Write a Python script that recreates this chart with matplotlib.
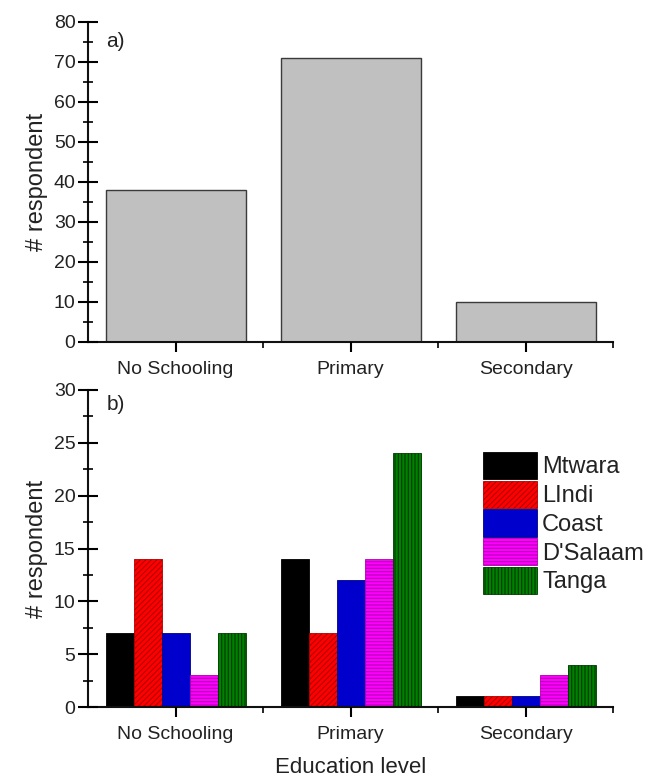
import matplotlib
matplotlib.use("Agg")
import matplotlib.pyplot as plt
import numpy as np
from matplotlib.ticker import MultipleLocator, FixedLocator

plt.rcParams['font.family'] = ['Liberation Sans', 'DejaVu Sans']
plt.rcParams['hatch.linewidth'] = 0.8

categories = ["No Schooling", "Primary", "Secondary"]
totals = [38, 71, 10]

regions = ["Mtwara", "LIndi", "Coast", "D'Salaam", "Tanga"]
mtwara = [7, 14, 1]
lindi = [14, 7, 1]
coast = [7, 12, 1]
dsalaam = [3, 14, 3]
tanga = [7, 24, 4]
series = [mtwara, lindi, coast, dsalaam, tanga]

face_colors = ["#000000", "#ff0000", "#0000cc", "#ff00ff", "#008000"]
hatch_colors = ["#000000", "#b00000", "#000080", "#b000b0", "#003a00"]
hatches = [None, "//////", None, "-----", "|||||"]

W, H = 651, 780
fig = plt.figure(figsize=(W / 100, H / 100), dpi=100)

def px_axes(left, right, top, bottom):
    return fig.add_axes([left / W, (H - bottom) / H, (right - left) / W, (bottom - top) / H])

ax1 = px_axes(88, 613, 22, 342)
ax2 = px_axes(88, 613, 390, 707)

x = np.arange(len(categories))
tick_col = "#222222"

def style(ax, ymax, major, minor):
    for s in ['top', 'right']:
        ax.spines[s].set_visible(False)
    for s in ['left', 'bottom']:
        ax.spines[s].set_linewidth(1.5)
        ax.spines[s].set_color("#111111")
    ax.set_xlim(-0.5, 2.5)
    ax.set_ylim(0, ymax)
    ax.yaxis.set_major_locator(MultipleLocator(major))
    ax.yaxis.set_minor_locator(MultipleLocator(minor))
    ax.set_xticks(x)
    ax.set_xticklabels(categories)
    ax.xaxis.set_minor_locator(FixedLocator([0.5, 1.5, 2.5]))
    ax.tick_params(axis='y', which='major', direction='inout', length=14, width=1.5,
                   labelsize=14, labelcolor=tick_col, pad=2)
    ax.tick_params(axis='y', which='minor', direction='inout', length=7, width=1.2)
    ax.tick_params(axis='x', which='major', direction='out', length=7, width=1.5,
                   labelsize=14, labelcolor=tick_col, pad=7)
    ax.tick_params(axis='x', which='minor', direction='out', length=4, width=1.2)
    ax.set_ylabel("# respondent", fontsize=17, color=tick_col, labelpad=4)
    ax.set_axisbelow(False)

ax1.bar(x, totals, width=0.8, color="#c0c0c0", edgecolor="#3a3a3a", linewidth=1.0, zorder=2)
style(ax1, 80, 10, 5)
ax1.text(0.035, 0.97, "a)", transform=ax1.transAxes, fontsize=15, va='top', ha='left', color=tick_col)

n = len(series)
bw = 0.16
for i, (vals, name) in enumerate(zip(series, regions)):
    offs = (i - (n - 1) / 2) * bw
    ax2.bar(x + offs, vals, width=bw, color=face_colors[i], edgecolor=hatch_colors[i],
            hatch=hatches[i], linewidth=0.6, label=name, zorder=2)
style(ax2, 30, 5, 2.5)
ax2.text(0.035, 0.985, "b)", transform=ax2.transAxes, fontsize=15, va='top', ha='left', color=tick_col)
ax2.set_xlabel("Education level", fontsize=16, color=tick_col, labelpad=10)

leg = ax2.legend(loc='upper left', bbox_to_anchor=((483 - 88) / 525, (707 - 452) / 317),
                 frameon=False, fontsize=17, borderpad=0, borderaxespad=0,
                 handlelength=2.3, handleheight=1.4, labelspacing=0.06, handletextpad=0.2)
for t in leg.get_texts():
    t.set_color(tick_col)

fig.savefig("out.png", dpi=100)
